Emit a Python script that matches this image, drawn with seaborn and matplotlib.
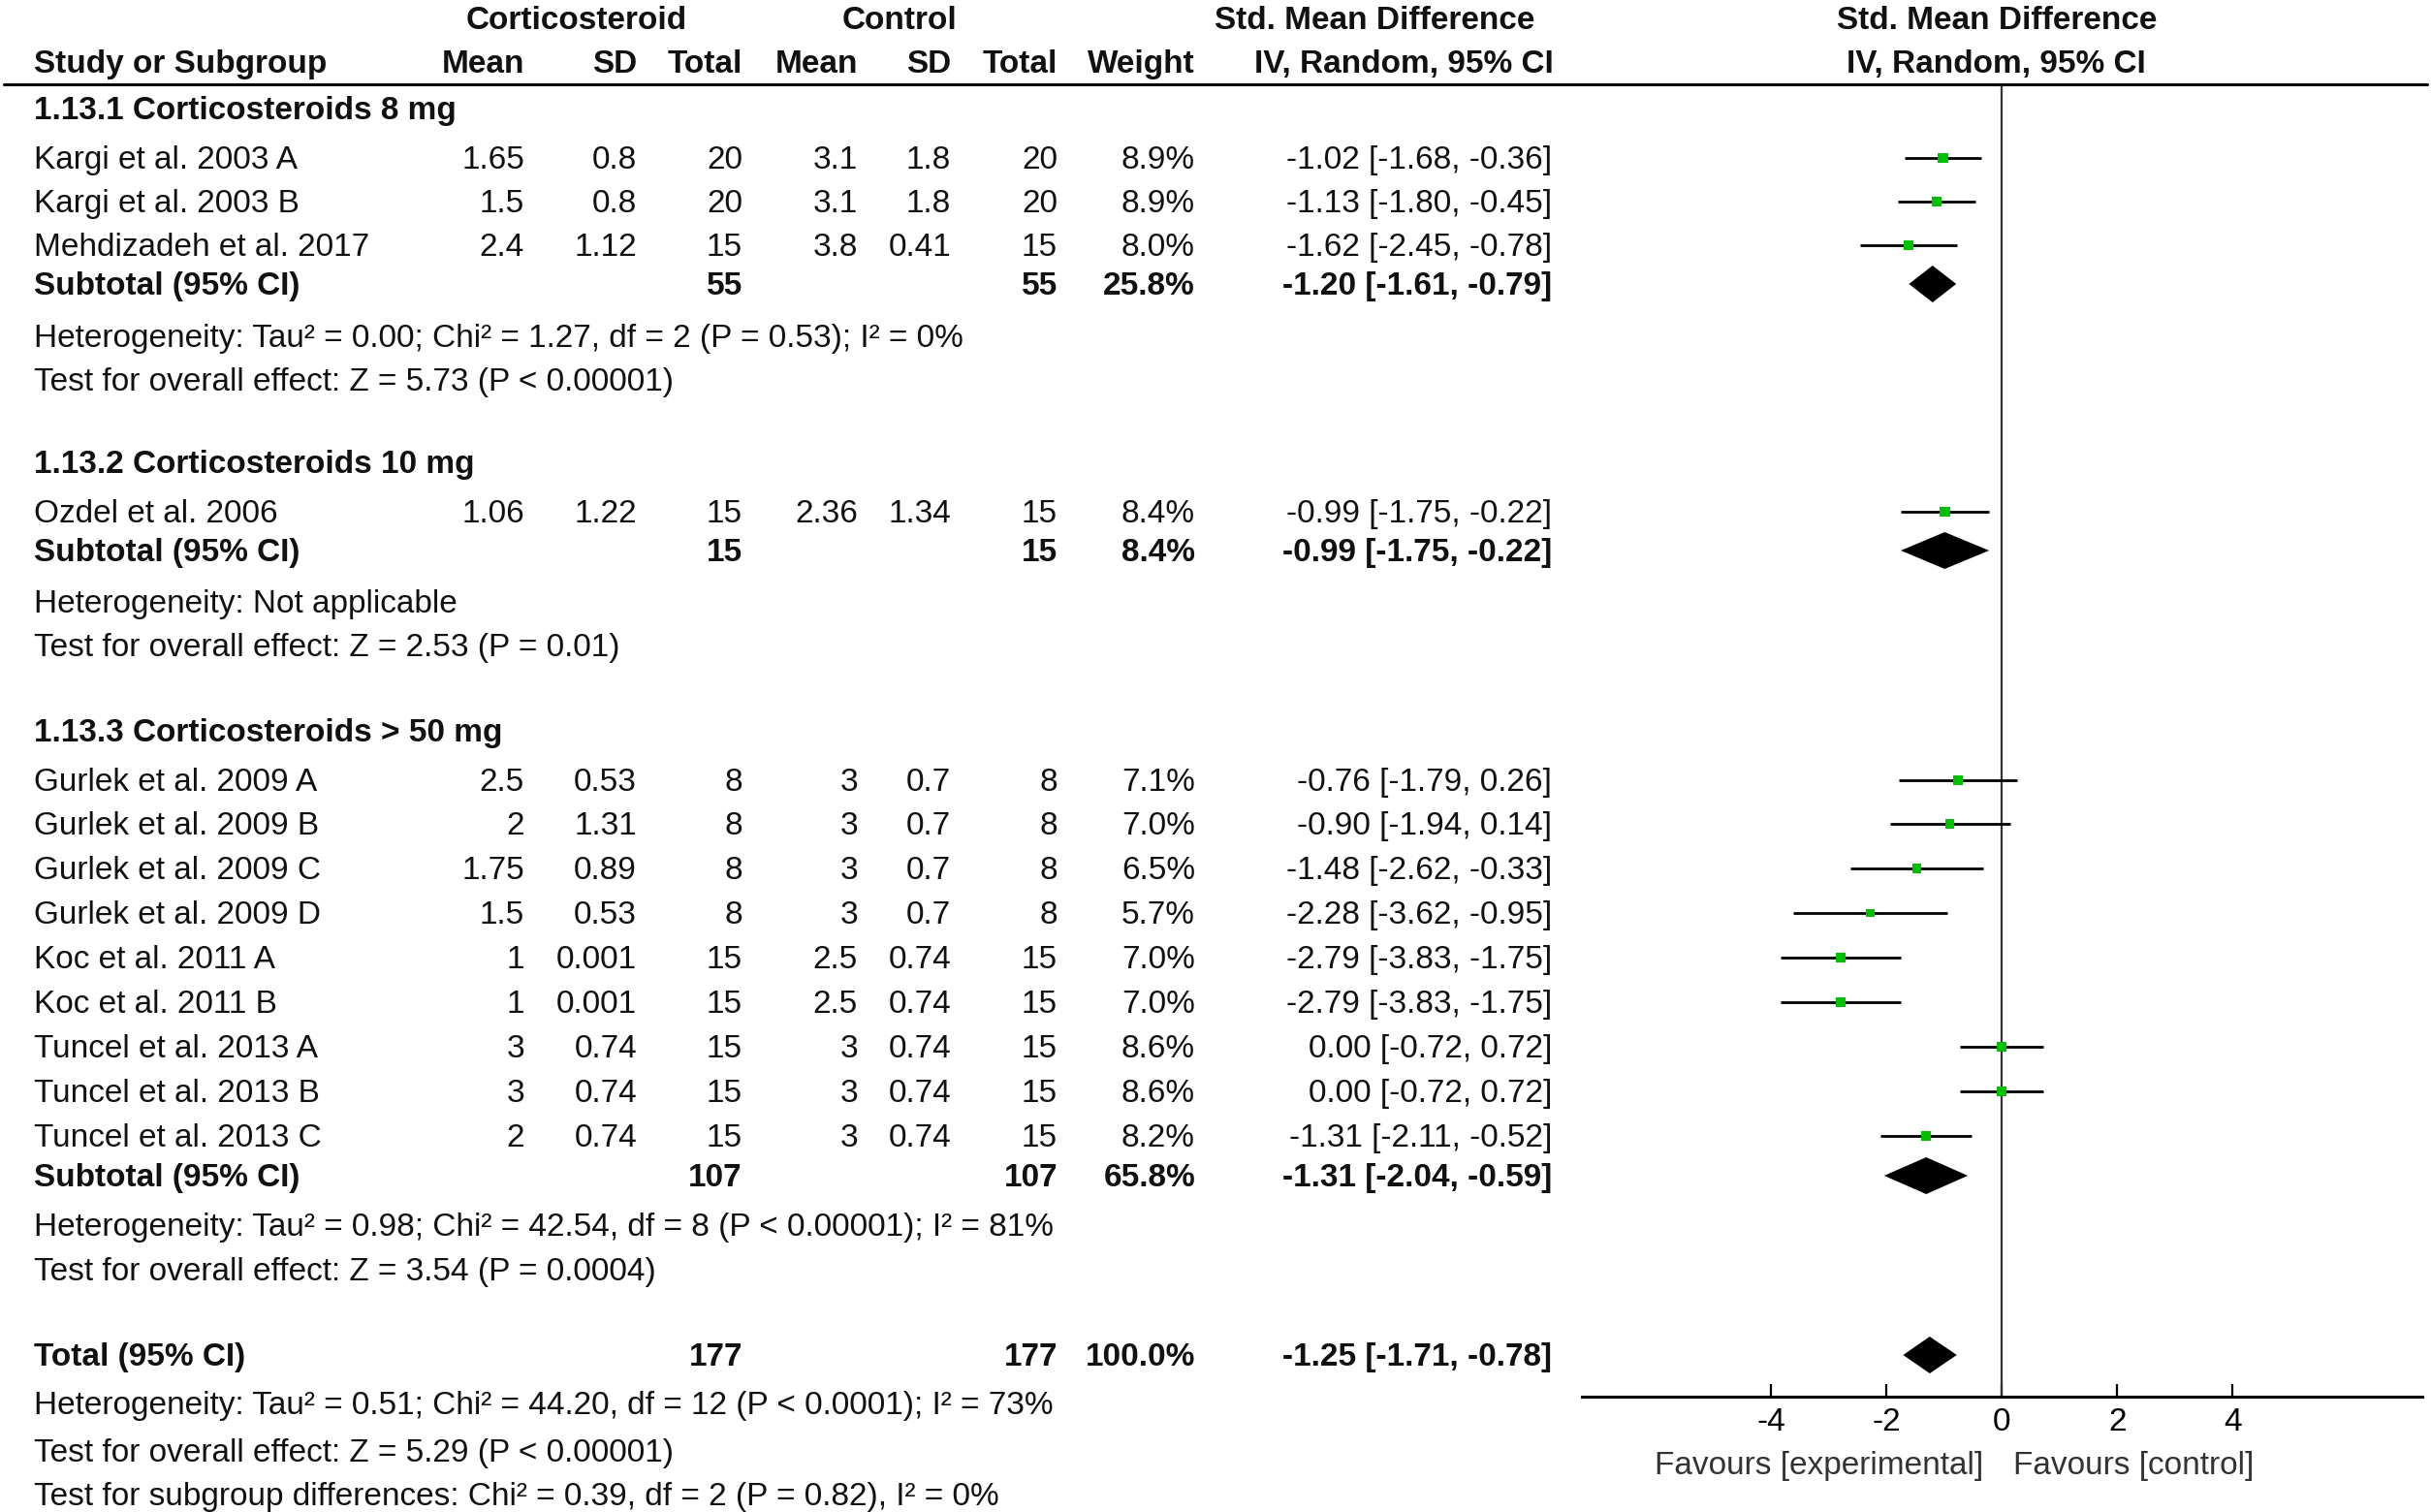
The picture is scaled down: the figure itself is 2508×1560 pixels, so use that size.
import numpy as np
import pandas as pd
import matplotlib
matplotlib.use("Agg")
import matplotlib.pyplot as plt
import matplotlib.transforms as mtransforms
import seaborn as sns

# Study level data
studies = ["Kargi et al. 2003 A", "Kargi et al. 2003 B", "Mehdizadeh et al. 2017",
           "Ozdel et al. 2006",
           "Gurlek et al. 2009 A", "Gurlek et al. 2009 B", "Gurlek et al. 2009 C",
           "Gurlek et al. 2009 D", "Koc et al. 2011 A", "Koc et al. 2011 B",
           "Tuncel et al. 2013 A", "Tuncel et al. 2013 B", "Tuncel et al. 2013 C"]
group = [0, 0, 0, 1, 2, 2, 2, 2, 2, 2, 2, 2, 2]
ster_mean = [1.65, 1.5, 2.4, 1.06, 2.5, 2, 1.75, 1.5, 1, 1, 3, 3, 2]
ster_sd = [0.8, 0.8, 1.12, 1.22, 0.53, 1.31, 0.89, 0.53, 0.001, 0.001, 0.74, 0.74, 0.74]
ster_n = [20, 20, 15, 15, 8, 8, 8, 8, 15, 15, 15, 15, 15]
ctrl_mean = [3.1, 3.1, 3.8, 2.36, 3, 3, 3, 3, 2.5, 2.5, 3, 3, 3]
ctrl_sd = [1.8, 1.8, 0.41, 1.34, 0.7, 0.7, 0.7, 0.7, 0.74, 0.74, 0.74, 0.74, 0.74]
ctrl_n = [20, 20, 15, 15, 8, 8, 8, 8, 15, 15, 15, 15, 15]
weight = [8.9, 8.9, 8.0, 8.4, 7.1, 7.0, 6.5, 5.7, 7.0, 7.0, 8.6, 8.6, 8.2]
smd = [-1.02, -1.13, -1.62, -0.99, -0.76, -0.90, -1.48, -2.28, -2.79, -2.79, 0.00, 0.00, -1.31]
smd_lo = [-1.68, -1.80, -2.45, -1.75, -1.79, -1.94, -2.62, -3.62, -3.83, -3.83, -0.72, -0.72, -2.11]
smd_hi = [-0.36, -0.45, -0.78, -0.22, 0.26, 0.14, -0.33, -0.95, -1.75, -1.75, 0.72, 0.72, -0.52]

# Subgroup data
sub_titles = ["1.13.1 Corticosteroids 8 mg", "1.13.2 Corticosteroids 10 mg",
              "1.13.3 Corticosteroids > 50 mg"]
sub_n = [55, 15, 107]
sub_weight = [25.8, 8.4, 65.8]
sub_smd = [-1.20, -0.99, -1.31]
sub_lo = [-1.61, -1.75, -2.04]
sub_hi = [-0.79, -0.22, -0.59]
sub_het = ["Heterogeneity: Tau² = 0.00; Chi² = 1.27, df = 2 (P = 0.53); I² = 0%",
           "Heterogeneity: Not applicable",
           "Heterogeneity: Tau² = 0.98; Chi² = 42.54, df = 8 (P < 0.00001); I² = 81%"]
sub_test = ["Test for overall effect: Z = 5.73 (P < 0.00001)",
            "Test for overall effect: Z = 2.53 (P = 0.01)",
            "Test for overall effect: Z = 3.54 (P = 0.0004)"]

# Overall
total_n = [177, 177]
total_weight = 100.0
total_smd, total_lo, total_hi = -1.25, -1.71, -0.78
total_notes = ["Heterogeneity: Tau² = 0.51; Chi² = 44.20, df = 12 (P < 0.0001); I² = 73%",
               "Test for overall effect: Z = 5.29 (P < 0.00001)",
               "Test for subgroup differences: Chi² = 0.39, df = 2 (P = 0.82), I² = 0%"]
xticks = [-4, -2, 0, 2, 4]
favours = ["Favours [experimental]", "Favours [control]"]

# ---- layout (pixel rows, top down) ----
W, H = 2508, 1560
title_y = [112, 477, 754]
study_y = [163, 208, 253, 528, 805, 850, 896, 942, 988, 1034, 1080, 1126, 1172]
subtot_y = [293, 568, 1213]
het_y = [347, 621, 1264]
test_y = [392, 666, 1310]
total_y = 1398
notes_y = [1448, 1497, 1542]
axis_y = 1441
line_y = 87

# column right edges
col_x = {"smean": 541, "ssd": 657, "sn": 766, "cmean": 885, "csd": 981,
         "cn": 1091, "w": 1233, "ci": 1601}

sns.set_theme(style="white")
plt.rcParams["font.family"] = ["Liberation Sans", "DejaVu Sans"]
FS = 24

fig = plt.figure(figsize=(W / 100, H / 100), dpi=100)
ax = fig.add_axes([1632 / W, 0, (2499 - 1632) / W, 1])
ax.set_xlim(-7.28, 7.29)
ax.set_ylim(H, 0)
blend = mtransforms.blended_transform_factory(fig.transFigure, ax.transData)


def put(xpx, ypx, s, ha="right", bold=False, color="#111111"):
    ax.text(xpx / W, ypx + 11, s, transform=blend, ha=ha, va="baseline",
            fontsize=FS, fontweight="bold" if bold else "normal",
            color=color, clip_on=False)


def fmt_ci(e, l, h):
    return f"{e:.2f} [{l:.2f}, {h:.2f}]"


# headers
put(595, 19, "Corticosteroid", ha="center", bold=True)
put(928, 19, "Control", ha="center", bold=True)
put(1418, 19, "Std. Mean Difference", ha="center", bold=True)
put(1448, 64, "IV, Random, 95% CI", ha="center", bold=True)
put(2060, 19, "Std. Mean Difference", ha="center", bold=True)
put(2059, 64, "IV, Random, 95% CI", ha="center", bold=True)
put(35, 64, "Study or Subgroup", ha="left", bold=True)
for key, lab in zip(["smean", "ssd", "sn", "cmean", "csd", "cn", "w"],
                    ["Mean", "SD", "Total", "Mean", "SD", "Total", "Weight"]):
    put(col_x[key], 64, lab, bold=True)
ax.plot([4 / W, 2504 / W], [line_y, line_y], transform=blend, color="black",
        lw=2.2, clip_on=False)

# study rows
for i, name in enumerate(studies):
    y = study_y[i]
    put(35, y, name, ha="left")
    put(col_x["smean"], y, f"{ster_mean[i]:g}")
    put(col_x["ssd"], y, f"{ster_sd[i]:g}")
    put(col_x["sn"], y, f"{ster_n[i]}")
    put(col_x["cmean"], y, f"{ctrl_mean[i]:g}")
    put(col_x["csd"], y, f"{ctrl_sd[i]:g}")
    put(col_x["cn"], y, f"{ctrl_n[i]}")
    put(col_x["w"], y, f"{weight[i]:.1f}%")
    put(col_x["ci"], y, fmt_ci(smd[i], smd_lo[i], smd_hi[i]))

# subgroup rows
for g in range(3):
    put(35, title_y[g], sub_titles[g], ha="left", bold=True)
    put(35, subtot_y[g], "Subtotal (95% CI)", ha="left", bold=True)
    put(col_x["sn"], subtot_y[g], f"{sub_n[g]}", bold=True)
    put(col_x["cn"], subtot_y[g], f"{sub_n[g]}", bold=True)
    put(col_x["w"], subtot_y[g], f"{sub_weight[g]:.1f}%", bold=True)
    put(col_x["ci"], subtot_y[g], fmt_ci(sub_smd[g], sub_lo[g], sub_hi[g]), bold=True)
    put(35, het_y[g], sub_het[g], ha="left")
    put(35, test_y[g], sub_test[g], ha="left")

put(35, total_y, "Total (95% CI)", ha="left", bold=True)
put(col_x["sn"], total_y, f"{total_n[0]}", bold=True)
put(col_x["cn"], total_y, f"{total_n[1]}", bold=True)
put(col_x["w"], total_y, f"{total_weight:.1f}%", bold=True)
put(col_x["ci"], total_y, fmt_ci(total_smd, total_lo, total_hi), bold=True)
for txt, y in zip(total_notes, notes_y):
    put(35, y, txt, ha="left")

# forest: zero line, CIs, squares, diamonds
ax.vlines(0, line_y, axis_y, color="#333333", lw=1.6, zorder=1)
ax.hlines(study_y, smd_lo, smd_hi, color="black", lw=2.0, zorder=2)
df = pd.DataFrame({"smd": smd, "y": study_y, "w": weight})
sns.scatterplot(data=df, x="smd", y="y", size="w", sizes=(60 * 5.7 / 8.9, 60),
                size_norm=(5.7, 8.9), marker="s", color="#00c000", linewidth=0,
                legend=False, ax=ax, zorder=3)

dia_e = sub_smd + [total_smd]
dia_l = sub_lo + [total_lo]
dia_h = sub_hi + [total_hi]
dia_y = subtot_y + [total_y]
for e, l, h, y in zip(dia_e, dia_l, dia_h, dia_y):
    ax.fill([l, e, h, e], [y, y - 19, y, y + 19], color="black", lw=0, zorder=3)

# axis
for s in ["top", "left", "right"]:
    ax.spines[s].set_visible(False)
ax.spines["bottom"].set_position(("data", axis_y))
ax.spines["bottom"].set_linewidth(2.2)
ax.spines["bottom"].set_color("black")
ax.set_xticks(xticks)
ax.set_xticklabels([str(t) for t in xticks])
ax.tick_params(axis="x", direction="in", length=9.5, width=1.6, pad=8,
               labelsize=FS, colors="black", bottom=True)
ax.set_yticks([])
ax.set_xlabel("")
ax.set_ylabel("")
ax.patch.set_alpha(0)

ax.text(2046 / W, 1510 + 11, favours[0], transform=blend, ha="right", va="baseline",
        fontsize=FS, color="#333333")
ax.text(2077 / W, 1510 + 11, favours[1], transform=blend, ha="left", va="baseline",
        fontsize=FS, color="#333333")

fig.savefig("out.png", dpi=100)
